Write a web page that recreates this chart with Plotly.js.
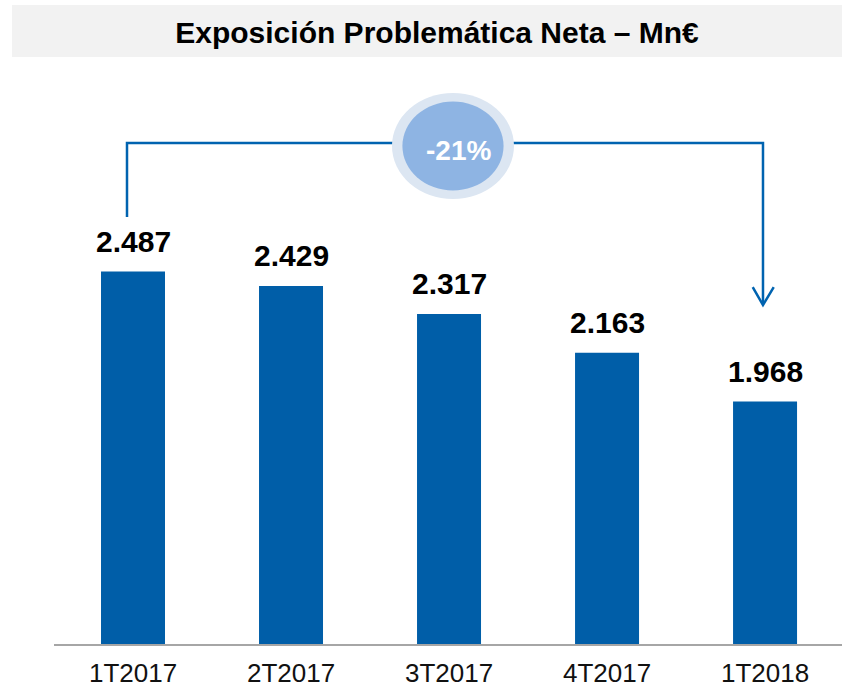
<!DOCTYPE html>
<html><head><meta charset="utf-8">
<script src="https://cdn.plot.ly/plotly-3.0.1.min.js"></script>
<style>html,body{margin:0;padding:0;background:#fff;}#chart{width:842px;height:691px;}</style>
</head><body><div id="chart"></div>
<script>
const categories = ["1T2017", "2T2017", "3T2017", "4T2017", "1T2018"];
const values = [2487, 2429, 2317, 2163, 1968];
const changeLabel = "-21%";
const chartTitle = "Exposición Problemática Neta – Mn€";

const barColor = "#005EA8";
const fontFam = "Liberation Sans, Arial, sans-serif";

const trace = {
  type: "bar",
  x: categories,
  y: values,
  marker: {color: barColor},
  width: 0.405,
  hoverinfo: "skip"
};

const valueAnnotations = categories.map((c, i) => ({
  x: c, y: values[i], xref: "x", yref: "y",
  text: "<b>" + values[i].toLocaleString("de-DE") + "</b>",
  showarrow: false, yanchor: "bottom", yshift: 12,
  font: {family: fontFam, size: 30, color: "#000"}
}));

const lineColor = "#0063B0";
const layout = {
  width: 842, height: 691,
  margin: {l: 54, r: 0, t: 60, b: 47},
  paper_bgcolor: "#fff", plot_bgcolor: "#fff",
  separators: ",.",
  showlegend: false,
  title: {
    text: "<b>" + chartTitle + "</b>",
    x: 437/842, xanchor: "center", xref: "container",
    y: 1 - 32/691, yanchor: "middle", yref: "container",
    font: {family: fontFam, size: 30, color: "#000"}
  },
  xaxis: {
    type: "category",
    range: [-0.5, 4.487],
    showline: true, linecolor: "#A6A6A6", linewidth: 2,
    ticks: "", showgrid: false, zeroline: false,
    ticklabelstandoff: 5,
    tickfont: {family: fontFam, size: 26, color: "#111"},
    fixedrange: true
  },
  yaxis: {
    range: [1000, 1000 + 584/0.2505],
    visible: false, showgrid: false, zeroline: false, fixedrange: true
  },
  shapes: [
    {type: "rect", xref: "paper", yref: "paper",
     x0: (12-54)/788, x1: 1.0, y0: (644-57)/584, y1: (644-5)/584,
     fillcolor: "#F2F2F2", line: {width: 0}, layer: "below"},
    {type: "path", xref: "x", yref: "y",
     path: "M -0.038,2705 L -0.038,3000 L 3.987,3000 L 3.987,2356",
     line: {color: lineColor, width: 2.5}},
    {type: "path", xref: "x", yref: "y",
     path: "M 3.922,2425 L 3.987,2353 L 4.055,2425",
     line: {color: lineColor, width: 2.5}},
    {type: "circle", xref: "x", yref: "y",
     x0: 2.025-0.386, x1: 2.025+0.386, y0: 2988-211.6, y1: 2988+211.6,
     fillcolor: "#DCE6F2", line: {width: 0}},
    {type: "circle", xref: "x", yref: "y",
     x0: 2.025-0.32, x1: 2.025+0.32, y0: 2988-177.6, y1: 2988+177.6,
     fillcolor: "#8EB4E3", line: {width: 0}}
  ],
  annotations: valueAnnotations.concat([
    {x: 2.06, y: 2970, xref: "x", yref: "y", text: "<b>" + changeLabel + "</b>",
     showarrow: false, font: {family: fontFam, size: 28, color: "#fff"}}
  ])
};

Plotly.newPlot("chart", [trace], layout, {displayModeBar: false, staticPlot: true});
</script></body></html>
